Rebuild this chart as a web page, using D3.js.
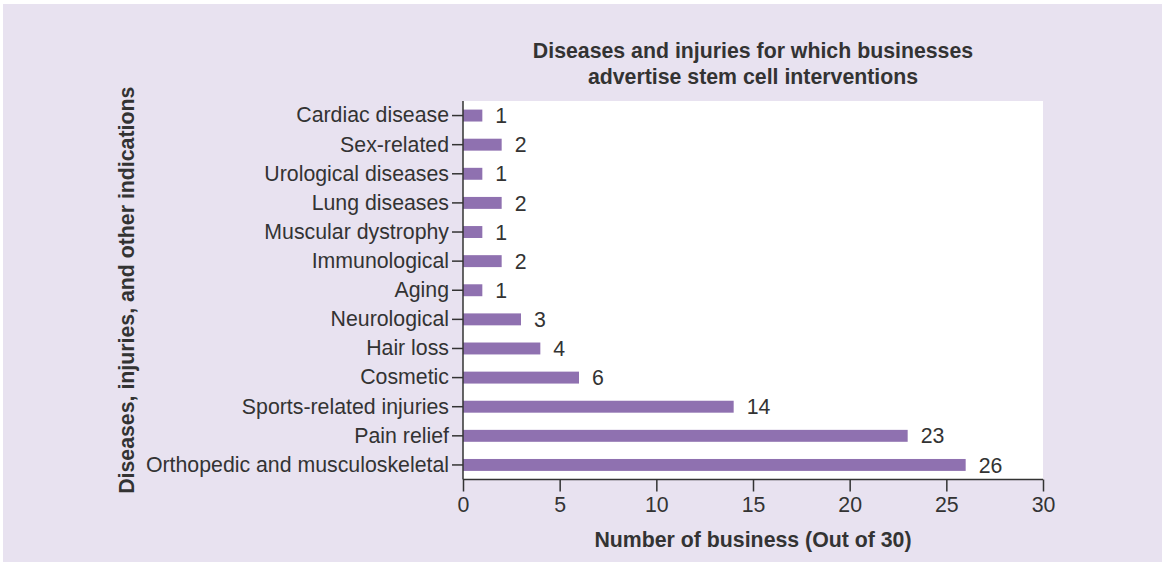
<!DOCTYPE html>
<html>
<head>
<meta charset="utf-8">
<script src="https://cdn.jsdelivr.net/npm/d3@7"></script>
<style>
  body { margin: 0; background: #fff; }
  text { font-family: "Liberation Sans", Arial, sans-serif; fill: #333; }
</style>
</head>
<body>
<div class="chart"></div>
<script>
// Data
var categories = ["Cardiac disease", "Sex-related", "Urological diseases", "Lung diseases",
                  "Muscular dystrophy", "Immunological", "Aging", "Neurological", "Hair loss",
                  "Cosmetic", "Sports-related injuries", "Pain relief", "Orthopedic and musculoskeletal"];
var counts = [1, 2, 1, 2, 1, 2, 1, 3, 4, 6, 14, 23, 26];
var xTicks = [0, 5, 10, 15, 20, 25, 30];

var width = 1164, height = 564;
var plot = { left: 463, right: 1043, top: 101, bottom: 479.5 };
var fs = "21.3px";

var svg = d3.select(".chart").append("svg")
            .attr("width", width)
            .attr("height", height);

// lavender panel
svg.append("rect")
   .attr("x", 3).attr("y", 4)
   .attr("width", width - 5).attr("height", height - 6)
   .attr("fill", "#e8e2f0");

// white plot area
svg.append("rect")
   .attr("x", plot.left).attr("y", plot.top)
   .attr("width", plot.right - plot.left).attr("height", plot.bottom - plot.top)
   .attr("fill", "#fff");

var x = d3.scaleLinear().domain([0, 30]).range([plot.left, plot.right]);
var y = d3.scaleBand().domain(categories).range([plot.top, plot.bottom]).paddingInner(0.59).paddingOuter(0.295);

// bars
svg.selectAll(".bar")
   .data(categories)
   .enter().append("rect")
   .attr("class", "bar")
   .attr("x", x(0))
   .attr("y", function(d) { return y(d); })
   .attr("width", function(d, i) { return x(counts[i]) - x(0); })
   .attr("height", y.bandwidth())
   .attr("fill", "#8f71b0");

// value labels
svg.selectAll(".val")
   .data(categories)
   .enter().append("text")
   .attr("class", "val")
   .attr("x", function(d, i) { return x(counts[i]) + 13; })
   .attr("y", function(d) { return y(d) + y.bandwidth() / 2; })
   .attr("dy", "0.36em")
   .style("font-size", fs)
   .text(function(d, i) { return counts[i]; });

// axes
var yAxis = svg.append("g")
               .attr("transform", "translate(" + plot.left + ",0)")
               .call(d3.axisLeft(y).tickSize(11).tickPadding(3));
var xAxis = svg.append("g")
               .attr("transform", "translate(0," + plot.bottom + ")")
               .call(d3.axisBottom(x).tickValues(xTicks).tickSize(12).tickPadding(5));

[yAxis, xAxis].forEach(function(a) {
  a.selectAll("path, line").attr("stroke", "#333").attr("stroke-width", 1.5);
  a.selectAll("text").style("font-size", fs).attr("fill", "#333")
   .style("font-family", '"Liberation Sans", Arial, sans-serif');
});
yAxis.select(".domain").attr("d", "M0," + plot.top + "V" + plot.bottom);
xAxis.select(".domain").attr("d", "M" + plot.left + ",0H" + plot.right);

// titles
var cx = (plot.left + plot.right) / 2;
var title = svg.append("text")
               .attr("x", cx)
               .attr("text-anchor", "middle")
               .style("font-size", fs)
               .style("font-weight", "bold");
title.append("tspan").attr("x", cx).attr("y", 58).text("Diseases and injuries for which businesses");
title.append("tspan").attr("x", cx).attr("y", 84).text("advertise stem cell interventions");

svg.append("text")
   .attr("x", cx)
   .attr("y", 547)
   .attr("text-anchor", "middle")
   .style("font-size", fs)
   .style("font-weight", "bold")
   .text("Number of business (Out of 30)");

svg.append("text")
   .attr("transform", "translate(134," + ((plot.top + plot.bottom) / 2) + ") rotate(-90)")
   .attr("text-anchor", "middle")
   .style("font-size", fs)
   .style("font-weight", "bold")
   .text("Diseases, injuries, and other indications");
</script>
</body>
</html>
